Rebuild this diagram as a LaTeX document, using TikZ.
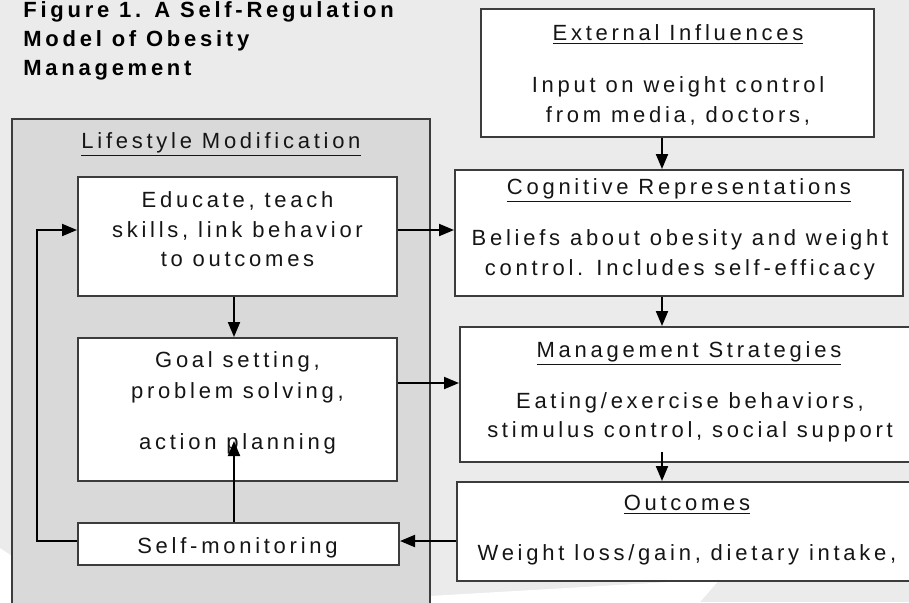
\documentclass[tikz,border=0pt]{standalone}
\usepackage{fontspec}
\setmainfont{Liberation Sans}[LetterSpace=17]
\usetikzlibrary{arrows.meta,fit}
\definecolor{bg}{HTML}{EBEBEB}
\definecolor{panel}{HTML}{D9D9D9}
\definecolor{edge}{HTML}{3C3C3C}
\definecolor{ink}{HTML}{151515}
\begin{document}
\begin{tikzpicture}[x=0.5pt,y=-0.5pt,
  box/.style={draw=edge,line width=1pt,fill=white,inner sep=0pt},
  panelbox/.style={draw=edge,line width=1pt,fill=panel,inner sep=0pt},
  txt/.style={anchor=base,inner sep=0pt,text=ink,font=\fontsize{11}{15}\selectfont},
  ttl/.style={anchor=base west,inner sep=0pt,text=black,font=\fontsize{11}{15}\selectfont\bfseries},
  arr/.style={line width=1pt,black,-{Triangle[length=7.5pt,width=6pt]}},
  conn/.style={line width=1pt,black}]
\useasboundingbox (0,0) rectangle (909,602);
\clip (0,0) rectangle (909,602);
\fill[bg] (0,0) rectangle (909,602);
\fill[white] (0,548) -- (12,556) -- (12,602) -- (0,602) -- cycle;
\fill[white] (430,602) -- (430,596) -- (720,579) -- (700,602) -- cycle;
% title
\node[ttl] (ti1) at (23,17) {Figure 1. A Self-Regulation};
\node[ttl] (ti2) at (23,46) {Model of Obesity};
\node[ttl] (ti3) at (23,75) {Management};
% left panel
\node[panelbox, fit={(12,119) (430,620)}] (panel) {};
\node[txt] (lm) at (221,148) {\underline{Lifestyle Modification}};
\node[box, fit={(78,177) (397,296)}] (edu) {};
\node[txt] (e1) at (237.5,207) {Educate, teach};
\node[txt] (e2) at (237.5,237) {skills, link behavior};
\node[txt] (e3) at (237.5,266) {to outcomes};
\node[box, fit={(78,338) (397,481)}] (goal) {};
\node[txt] (g1) at (237.5,367) {Goal setting,};
\node[txt] (g2) at (237.5,398) {problem solving,};
\node[txt] (g3) at (237.5,449) {action planning};
\node[box, fit={(78,523) (399,565)}] (sm) {};
\node[txt] (s1) at (237.5,553) {Self-monitoring};
% right column
\node[box, fit={(481,9) (874,137)}] (ext) {};
\node[txt] (x0) at (678,40) {\underline{External Influences}};
\node[txt] (x1) at (678,92) {Input on weight control};
\node[txt] (x2) at (678,122) {from media, doctors,};
\node[box, fit={(455,170) (903,296)}] (cog) {};
\node[txt] (c0) at (679,194) {\underline{Cognitive Representations}};
\node[txt] (c1) at (680,245) {Beliefs about obesity and weight};
\node[txt] (c2) at (680,275) {control. Includes self-efficacy};
\node[box, fit={(460,327) (925,462)}] (mgmt) {};
\node[txt] (m0) at (689,357) {\underline{Management Strategies}};
\node[txt] (m1) at (690,408) {Eating/exercise behaviors,};
\node[txt] (m2) at (690,437) {stimulus control, social support};
\node[box, fit={(457,482) (925,581)}] (outc) {};
\node[txt] (o0) at (687,510) {\underline{Outcomes}};
\node[txt] (o1) at (687,560) {Weight loss/gain, dietary intake,};
% helper coordinates
\coordinate (cx) at (662,0);
\coordinate (bx) at (234,0);
\coordinate (lx) at (37,0);
\coordinate (ya) at (0,230);
\coordinate (yb) at (0,383);
\coordinate (yc) at (0,541);
\coordinate (gt) at (234,441);
\coordinate (ms) at (662,452);
% connectors
\draw[arr] (ext.south -| cx) -- (cog.north -| cx);
\draw[arr] (cog.south -| cx) -- (mgmt.north -| cx);
\draw[arr] (ms) -- (outc.north -| cx);
\draw[arr] (edu.south -| bx) -- (goal.north -| bx);
\draw[arr] (sm.north -| bx) -- (gt);
\draw[arr] (edu.east |- ya) -- (cog.west |- ya);
\draw[arr] (goal.east |- yb) -- (mgmt.west |- yb);
\draw[arr] (outc.west |- yc) -- (sm.east |- yc);
\draw[arr] (sm.west |- yc) -- (lx |- yc) -- (lx |- ya) -- (edu.west |- ya);
\end{tikzpicture}
\end{document}
